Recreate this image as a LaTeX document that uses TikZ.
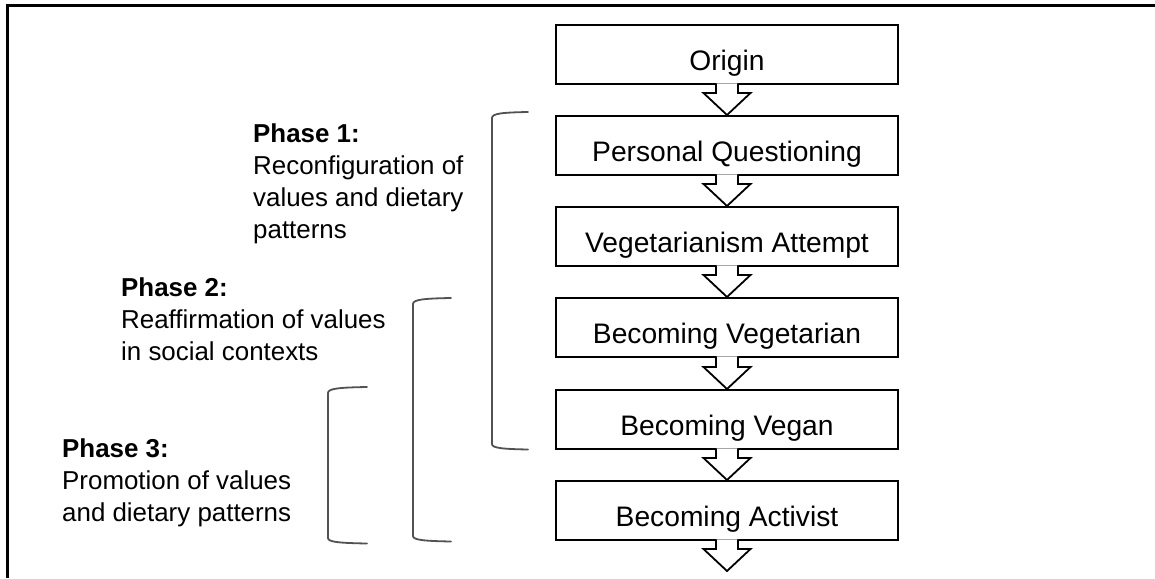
\documentclass[tikz,border=0pt]{standalone}
\usepackage{fontspec}
\setmainfont{Liberation Sans}
\usetikzlibrary{calc}
\newcommand\stagearrow[2]{%
  \draw[blockarrow] ($(#1.south)+(-11,-1.5)$) -- ($(#2)+(-11,-22)$) -- ($(#2)+(-23.5,-22)$) -- (#2)
    -- ($(#2)+(23.5,-22)$) -- ($(#2)+(11,-22)$) -- ($(#1.south)+(11,-1.5)$);}
\begin{document}
\begin{tikzpicture}[x=1pt,y=-1pt,
  stage/.style={draw=black, line width=1.8pt, minimum width=342pt, minimum height=59pt,
    inner sep=0pt, text height=33pt, text depth=0pt,
    font=\fontsize{28.2}{33}\selectfont, anchor=north},
  blockarrow/.style={draw=black, line width=1.8pt, fill=white, line join=miter},
  bracket/.style={draw=black!68, line width=1.8pt, line cap=round},
  phase/.style={anchor=base west, inner sep=0pt, font=\fontsize{25.9}{32}\selectfont},
  frame/.style={draw=black, line width=2.2pt}]
\useasboundingbox (0,0) rectangle (1155,578);
\draw[frame] (7.5,578) -- (7.5,5.5) -- (1155,5.5);

\node[stage] (origin) at (727,24) {Origin};
\node[stage] (quest) at (727,115) {Personal Questioning};
\node[stage] (attempt) at (727,206) {Vegetarianism Attempt};
\node[stage] (vegetarian) at (727,297) {Becoming Vegetarian};
\node[stage] (vegan) at (727,389) {Becoming Vegan};
\node[stage] (activist) at (727,480) {Becoming Activist};
\coordinate (end) at (727,571);

\stagearrow{origin}{quest.north}
\stagearrow{quest}{attempt.north}
\stagearrow{attempt}{vegetarian.north}
\stagearrow{vegetarian}{vegan.north}
\stagearrow{vegan}{activist.north}
\stagearrow{activist}{end}

\draw[bracket] (528,112) .. controls (502,112.5) and (492,113.5) .. (492,118) -- (492,444)
  .. controls (492,448) and (502,449) .. (528,449.5);
\draw[bracket] (451,298) .. controls (424,298.5) and (413,299.5) .. (413,304) -- (413,536)
  .. controls (413,540) and (424,541) .. (451,541.5);
\draw[bracket] (367,387) .. controls (339,387.5) and (328,388.5) .. (328,393) -- (328,538)
  .. controls (328,542) and (339,543) .. (367,543.5);

\node[phase] (p1) at (253,142) {\vtop{\baselineskip=32pt
  \hbox{\bfseries Phase 1:}\hbox{Reconfiguration of}\hbox{values and dietary}\hbox{patterns}}};
\node[phase] (p2) at (121,296) {\vtop{\baselineskip=32pt
  \hbox{\bfseries Phase 2:}\hbox{Reaffirmation of values}\hbox{in social contexts}}};
\node[phase] (p3) at (62,457) {\vtop{\baselineskip=32pt
  \hbox{\bfseries Phase 3:}\hbox{Promotion of values}\hbox{and dietary patterns}}};
\end{tikzpicture}
\end{document}
